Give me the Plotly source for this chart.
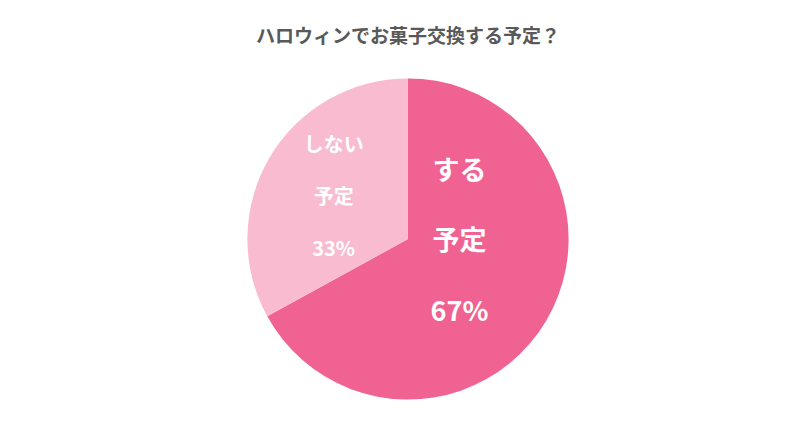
import plotly.graph_objects as go

labels = ["する予定", "しない予定"]
label_lines = [["する", "予定"], ["しない", "予定"]]
values = [67, 33]
colors = ["#F06292", "#F8BBD0"]
font_sizes = [27, 20]

spacer = "<br><span style='font-size:14px'> </span><br>"
texts = [spacer.join(f"<b>{s}</b>" for s in lines + [f"{v}%"]) for lines, v in zip(label_lines, values)]

fig = go.Figure(go.Pie(
    labels=labels, values=values, text=texts, textinfo="text",
    textposition="inside", insidetextorientation="horizontal",
    marker=dict(colors=colors, line=dict(width=0)),
    textfont=dict(color="white", size=font_sizes, family="Noto Sans CJK JP"),
    sort=False, direction="clockwise", rotation=0, showlegend=False,
    domain=dict(x=[0.299, 0.701], y=[0.11, 0.84]), hoverinfo="label+percent",
))
fig.update_layout(
    width=800, height=440, margin=dict(l=0, r=0, t=0, b=0),
    paper_bgcolor="white",
    title=dict(text="<b>ハロウィンでお菓子交換する予定？</b>", x=0.5, y=0.95, xanchor="center",
               font=dict(size=19, color="#595959", family="Noto Sans CJK JP")),
)
fig.write_html("out.html")
